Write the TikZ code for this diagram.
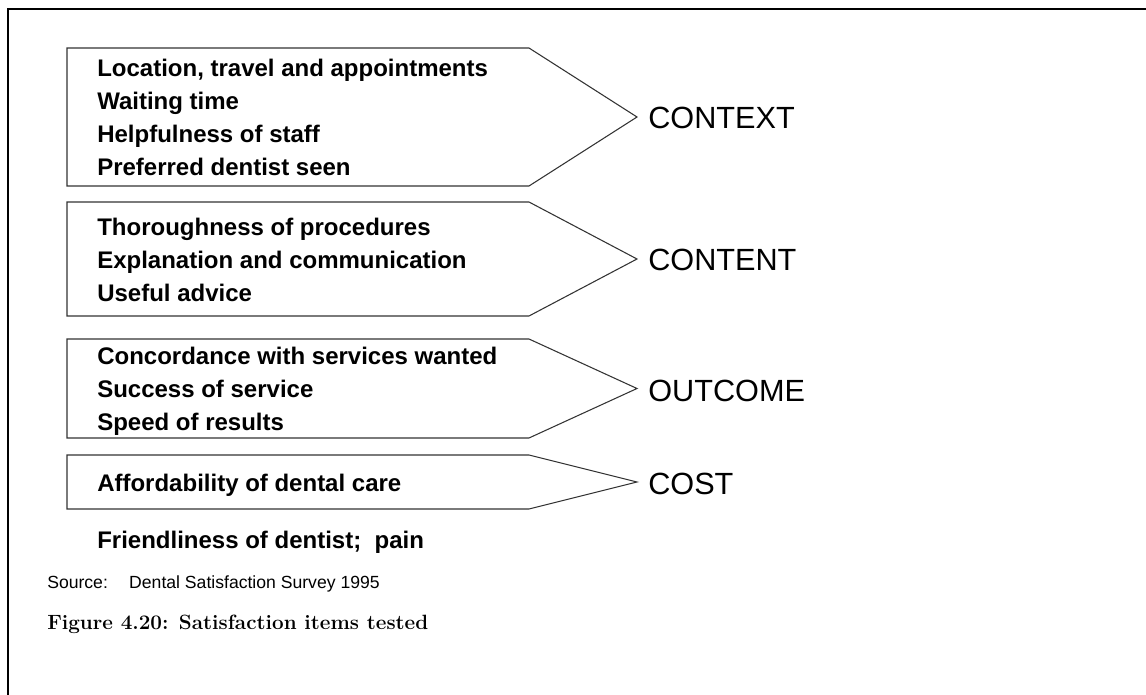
\documentclass[tikz,border=0pt]{standalone}
\usepackage{fontspec}
\setsansfont{Liberation Sans}
\begin{document}
\begin{tikzpicture}[x=0.75pt,y=-0.75pt,
  item/.style={anchor=base west,inner sep=0pt,font=\sffamily\bfseries\fontsize{18}{21}\selectfont},
  group/.style={anchor=base west,inner sep=0pt,font=\sffamily\fontsize{23}{27}\selectfont},
  arrowbox/.style={draw=black!80,line width=0.8pt}]
\useasboundingbox (0,0) rectangle (1146,695);
% frame
\draw[line width=2pt] (8,695) -- (8,9) -- (1146,9);
% arrow-shaped boxes
\foreach \t/\b in {48/186, 202/316, 339/438, 455/509}
  \draw[arrowbox] (67,\t) -- (529,\t) -- (637,{(\t+\b)/2}) -- (529,\b) -- (67,\b) -- cycle;
% items
\node[item] (loc) at (97,77) {Location, travel and appointments};
\node[item] (wait) at (97,110) {Waiting time};
\node[item] (staff) at (97,143) {Helpfulness of staff};
\node[item] (pref) at (97,176) {Preferred dentist seen};
\node[item] (thor) at (97,236) {Thoroughness of procedures};
\node[item] (expl) at (97,269) {Explanation and communication};
\node[item] (adv) at (97,302) {Useful advice};
\node[item] (conc) at (97,364) {Concordance with services wanted};
\node[item] (succ) at (97,397) {Success of service};
\node[item] (speed) at (97,430) {Speed of results};
\node[item] (afford) at (97,491) {Affordability of dental care};
\node[item] (friend) at (97,548) {Friendliness of dentist;\ \ pain};
% groups
\node[group] (context) at (648,129) {CONTEXT};
\node[group] (content) at (648,271) {CONTENT};
\node[group] (outcome) at (648,401) {OUTCOME};
\node[group] (cost) at (648,494) {COST};
% source and caption
\node[anchor=base west,inner sep=0pt,font=\sffamily\fontsize{13.2}{16}\selectfont] (src) at (47,588) {Source:\hspace{16pt}Dental Satisfaction Survey 1995};
\node[anchor=base west,inner sep=0pt,font=\bfseries\fontsize{15.5}{18}\selectfont] (cap) at (47,629) {Figure 4.20: Satisfaction items tested};
\end{tikzpicture}
\end{document}
